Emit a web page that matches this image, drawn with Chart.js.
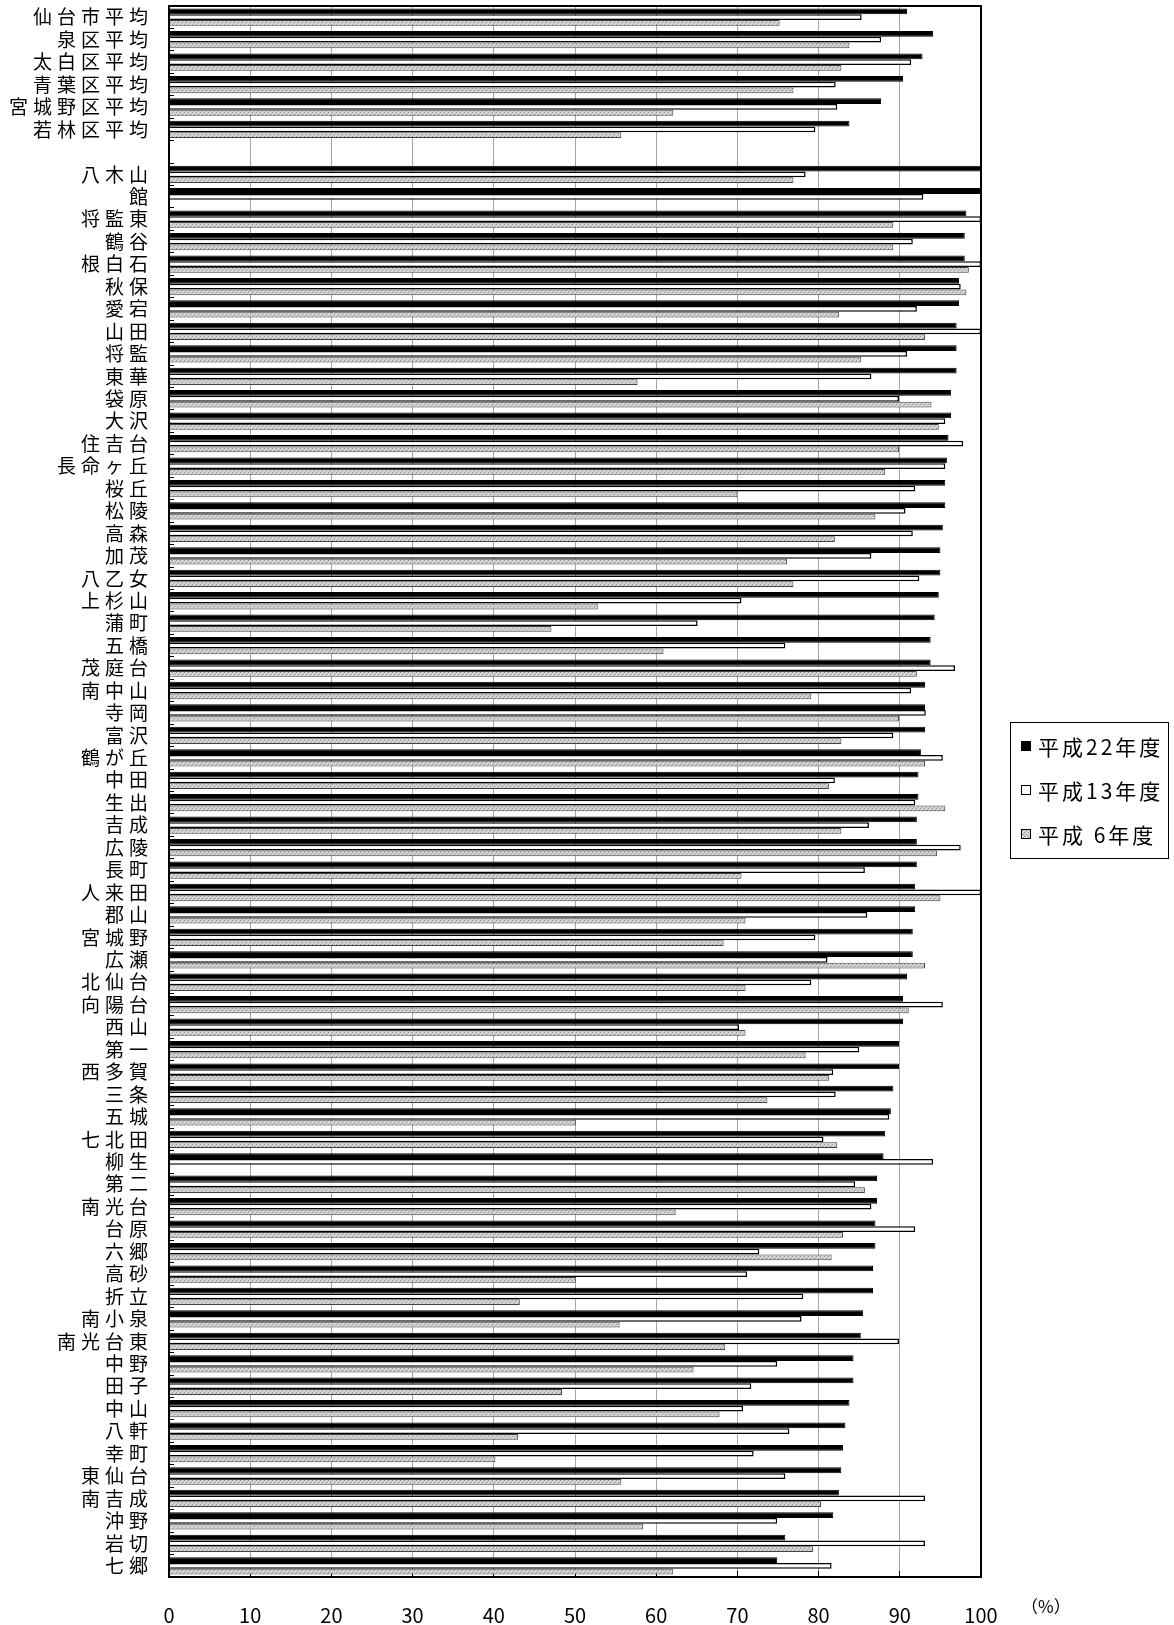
<!DOCTYPE html>
<html>
<head>
<meta charset="utf-8">
<script src="https://cdn.jsdelivr.net/npm/chart.js@4"></script>
<style>
  html, body { margin: 0; padding: 0; background: #fff; }
  #wrap { width: 1174px; height: 1625px; }
</style>
</head>
<body>
<div id="wrap"><canvas id="rateChart"></canvas></div>
<script>
const schools = ['仙台市平均', '泉区平均', '太白区平均', '青葉区平均', '宮城野区平均', '若林区平均', '',
  '八木山', '館', '将監東', '鶴谷', '根白石', '秋保', '愛宕', '山田', '将監', '東華',
  '袋原', '大沢', '住吉台', '長命ヶ丘', '桜丘', '松陵', '高森', '加茂', '八乙女', '上杉山',
  '蒲町', '五橋', '茂庭台', '南中山', '寺岡', '富沢', '鶴が丘', '中田', '生出', '吉成',
  '広陵', '長町', '人来田', '郡山', '宮城野', '広瀬', '北仙台', '向陽台', '西山', '第一',
  '西多賀', '三条', '五城', '七北田', '柳生', '第二', '南光台', '台原', '六郷', '高砂',
  '折立', '南小泉', '南光台東', '中野', '田子', '中山', '八軒', '幸町', '東仙台', '南吉成',
  '沖野', '岩切', '七郷'];

const seriesNames = ['平成22年度', '平成13年度', '平成 6年度'];

const h22 = [90.9, 94.1, 92.8, 90.4, 87.7, 83.8, null,
  100, 100, 98.2, 98.0, 98.0, 97.3, 97.3, 97.0, 97.0, 97.0,
  96.3, 96.3, 96.0, 95.8, 95.6, 95.6, 95.3, 95.0, 95.0, 94.8,
  94.3, 93.8, 93.8, 93.1, 93.1, 93.1, 92.6, 92.3, 92.3, 92.1,
  92.1, 92.1, 91.9, 91.9, 91.6, 91.6, 90.9, 90.4, 90.4, 89.9,
  89.9, 89.2, 88.9, 88.2, 88.0, 87.2, 87.2, 87.0, 87.0, 86.7,
  86.7, 85.5, 85.2, 84.3, 84.3, 83.8, 83.3, 83.0, 82.8, 82.5,
  81.8, 75.9, 74.9];

const h13 = [85.3, 87.7, 91.4, 82.1, 82.3, 79.6, null,
  78.4, 92.9, 100, 91.6, 100, 97.5, 92.1, 100, 90.9, 86.5,
  89.9, 95.6, 97.8, 95.6, 91.9, 90.7, 91.6, 86.5, 92.4, 70.5,
  65.1, 75.9, 96.8, 91.4, 93.2, 89.2, 95.3, 82.0, 91.9, 86.2,
  97.5, 85.7, 100, 86.0, 79.6, 81.1, 79.1, 95.3, 70.2, 85.0,
  81.8, 82.1, 88.7, 80.6, 94.1, 84.5, 86.5, 91.9, 72.7, 71.2,
  78.1, 77.9, 89.9, 74.9, 71.7, 70.7, 76.4, 72.0, 75.9, 93.1,
  74.9, 93.1, 81.6];

const h6 = [75.2, 83.8, 82.8, 76.9, 62.1, 55.7, null,
  76.9, null, 89.2, 89.2, 98.5, 98.2, 82.5, 93.1, 85.2, 57.7,
  93.9, 94.8, 89.9, 88.2, 70.0, 87.0, 82.0, 76.1, 76.9, 52.8,
  47.1, 60.9, 92.1, 79.1, 89.9, 82.8, 93.1, 81.3, 95.6, 82.8,
  94.6, 70.5, 95.0, 71.0, 68.3, 93.1, 71.0, 91.1, 71.0, 78.4,
  81.3, 73.7, 50.1, 82.3, null, 85.7, 62.4, 83.0, 81.6, 50.1,
  43.2, 55.5, 68.5, 64.6, 48.4, 67.8, 43.0, 40.2, 55.7, 80.3,
  58.4, 79.3, 62.1];

const xTicks = [0, 10, 20, 30, 40, 50, 60, 70, 80, 90, 100];
const unitLabel = '（%）';

const FONT = "'Noto Sans CJK JP', 'Noto Sans', sans-serif";

// light grey hatch like the old excel fill
function makeHatch() {
  const c = document.createElement('canvas');
  c.width = 4; c.height = 4;
  const g = c.getContext('2d');
  g.fillStyle = '#d6d6d6';
  g.fillRect(0, 0, 4, 4);
  g.fillStyle = '#8e8e8e';
  g.fillRect(0, 0, 1, 1);
  g.fillRect(2, 2, 1, 1);
  g.fillStyle = '#b0b0b0';
  g.fillRect(1, 3, 1, 1);
  g.fillRect(3, 1, 1, 1);
  return g.createPattern(c, 'repeat');
}
const hatch = makeHatch();

// y labels are spaced out in the original
const spacedLabels = {
  id: 'spacedLabels',
  beforeDraw(chart) {
    const y = chart.scales.y;
    if (y && !y._spaced) {
      const orig = y.drawLabels.bind(y);
      y.drawLabels = function (area) {
        this.ctx.save();
        this.ctx.letterSpacing = '5px';
        orig(area);
        this.ctx.restore();
      };
      y._spaced = true;
    }
  }
};

const frameAndLegend = {
  id: 'frameAndLegend',
  afterDraw(chart) {
    const ctx = chart.ctx;
    const a = chart.chartArea;
    ctx.save();
    ctx.strokeStyle = '#000';
    ctx.lineWidth = 2;
    ctx.strokeRect(a.left, a.top, a.right - a.left, a.bottom - a.top);

    // legend box to the right of the plot
    const bx = a.right + 29, by = 722, bw = 158, bh = 136;
    ctx.lineWidth = 1;
    ctx.strokeStyle = '#000';
    ctx.strokeRect(bx + 0.5, by + 0.5, bw, bh);
    ctx.font = '21px ' + FONT;
    ctx.letterSpacing = '3px';
    ctx.textBaseline = 'middle';
    ctx.fillStyle = '#000';
    chart.data.datasets.forEach((ds, i) => {
      const cy = by + 24 + i * 44;
      ctx.fillStyle = ds.backgroundColor;
      ctx.fillRect(bx + 11, cy - 5, 10, 10);
      ctx.strokeStyle = '#000';
      ctx.strokeRect(bx + 11.5, cy - 4.5, 9, 9);
      ctx.fillStyle = '#000';
      ctx.fillText(ds.label, bx + 28, cy + 1);
    });

    ctx.letterSpacing = '0px';
    ctx.font = '17px ' + FONT;
    ctx.textBaseline = 'middle';
    ctx.fillText(unitLabel, a.right + 40, 1607);
    ctx.restore();
  }
};

const ctx = document.getElementById('rateChart').getContext('2d');

new Chart(ctx, {
  type: 'bar',
  data: {
    labels: schools,
    datasets: [
      {
        label: seriesNames[0],
        data: h22,
        backgroundColor: '#000',
        borderColor: '#000',
        borderWidth: 1
      },
      {
        label: seriesNames[1],
        data: h13,
        backgroundColor: '#fff',
        borderColor: '#000',
        borderWidth: 1.5
      },
      {
        label: seriesNames[2],
        data: h6,
        backgroundColor: hatch,
        borderColor: '#444',
        borderWidth: 1
      }
    ]
  },
  options: {
    indexAxis: 'y',
    responsive: true,
    maintainAspectRatio: false,
    animation: false,
    layout: {
      padding: { top: 6, right: 193, left: 0, bottom: 0 }
    },
    datasets: {
      bar: {
        categoryPercentage: 0.77,
        barPercentage: 1.0,
        borderSkipped: 'start'
      }
    },
    scales: {
      x: {
        min: 0,
        max: 100,
        afterBuildTicks: (scale) => {
          scale.ticks = xTicks.map(v => ({ value: v }));
        },
        afterFit: (scale) => {
          scale.height = 48;
          scale.paddingLeft = 0;
          scale.paddingRight = 0;
        },
        grid: {
          color: '#a6a6a6',
          lineWidth: 1,
          tickColor: '#000',
          tickLength: -6
        },
        border: { color: '#000', width: 2 },
        ticks: {
          color: '#000',
          padding: 32,
          maxRotation: 0,
          font: { size: 20, family: FONT }
        }
      },
      y: {
        afterFit: (scale) => {
          scale.width = 169;
          scale.paddingTop = 0;
          scale.paddingBottom = 0;
        },
        grid: {
          display: true,
          drawOnChartArea: false,
          drawTicks: true,
          tickLength: -5,
          color: '#000',
          tickColor: '#000',
          offset: true
        },
        border: { color: '#000', width: 2 },
        ticks: {
          autoSkip: false,
          color: '#000',
          padding: 21,
          font: { size: 19, family: FONT }
        }
      }
    },
    plugins: {
      legend: { display: false },
      tooltip: { enabled: false }
    }
  },
  plugins: [spacedLabels, frameAndLegend]
});
</script>
</body>
</html>
